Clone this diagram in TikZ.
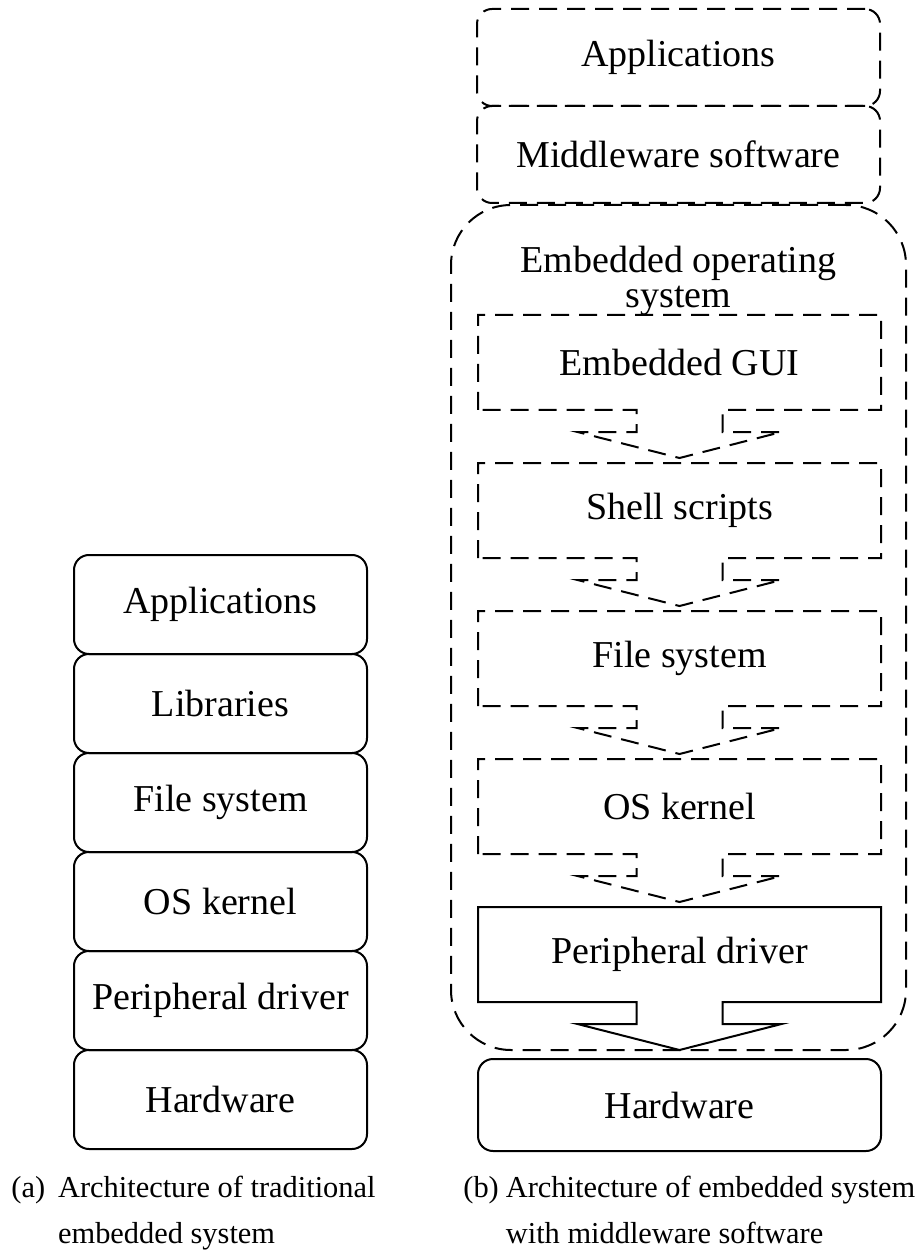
\documentclass[tikz,border=0pt]{standalone}
\usepackage{fontspec}
\setmainfont{Liberation Serif}
\usetikzlibrary{positioning, calc}

\begin{document}
\begin{tikzpicture}[
         x=0.5pt, y=-0.5pt,
         node distance=0pt,
         layer/.style={draw, line width=1pt, rounded corners=7.5pt, minimum width=146.5pt,
                       minimum height=49.5pt, outer sep=0pt, font=\fontsize{19}{19}\selectfont},
         dashlayer/.style={layer, dash pattern=on 9pt off 5pt, minimum width=201.5pt, minimum height=48.5pt},
         osbox/.style={minimum width=201.5pt, minimum height=47.5pt, outer sep=0pt,
                       font=\fontsize{19}{19}\selectfont},
         dashline/.style={line width=1pt, dash pattern=on 9pt off 5pt},
         solidline/.style={line width=1pt},
         caption/.style={font=\fontsize{15.2}{23}\selectfont, inner sep=0pt, anchor=north west}
      ]
         \useasboundingbox (0,0) rectangle (916,1256);

         % Traditional stack
         \node[layer] (apps) at (220.5,604.5) {Applications};
         \node[layer, below=of apps] (libs) {Libraries};
         \node[layer, below=of libs] (files) {File system};
         \node[layer, below=of files] (kern) {OS kernel};
         \node[layer, below=of kern] (drv) {Peripheral driver};
         \node[layer, below=of drv] (hw) {Hardware};

         % Stack with middleware
         \node[dashlayer] (mapps) at (678.5,57.5) {Applications};
         \node[dashlayer, below=of mapps] (mid) {Middleware software};
         \node[draw, dashline, rounded corners=30pt, minimum width=227.5pt,
               minimum height=422.5pt, outer sep=0pt] (os) at (678.5,627.5) {};
         \node[font=\fontsize{19}{17.5}\selectfont, align=center, inner sep=0pt,
               below=20.5pt of os.north] (osname) {Embedded operating\\system};

         % Layers inside the operating system
         \node[osbox] (gui) at (679.5,362.5) {Embedded GUI};
         \node[osbox, below=26.5pt of gui] (shell) {Shell scripts};
         \node[osbox, below=26.5pt of shell] (fs) {File system};
         \node[osbox, below=26.5pt of fs] (kernel) {OS kernel};
         \node[osbox, below=26.5pt of kernel] (driver) {Peripheral driver};
         \node[layer, minimum width=201.5pt, minimum height=46pt, below=28.5pt of driver] (mhw) {Hardware};

         % Outlines with block arrows
         \foreach \n/\s in {gui/dashline, shell/dashline, fs/dashline, kernel/dashline, driver/solidline}
            \draw[\s] (\n.south west) -- (\n.north west) -- (\n.north east) -- (\n.south east)
               -- ($(\n.south)+(43,0)$) -- ++(0,22) -- ++(59,0) -- ($(\n.south)+(0,48)$)
               -- ($(\n.south)+(-102,22)$) -- ++(59,0) -- ++(0,-22) -- cycle;

         % Captions
         \node[caption] (capa) at (11,1165) {\begin{tabular}{@{}l@{\hspace{6.5pt}}l@{}}(a)&Architecture of traditional\\&embedded system\end{tabular}};
         \node[caption] (capb) at (463,1165) {\begin{tabular}{@{}l@{\hspace{3.5pt}}l@{}}(b)&Architecture of embedded system\\&with middleware software\end{tabular}};

      \end{tikzpicture}
\end{document}
